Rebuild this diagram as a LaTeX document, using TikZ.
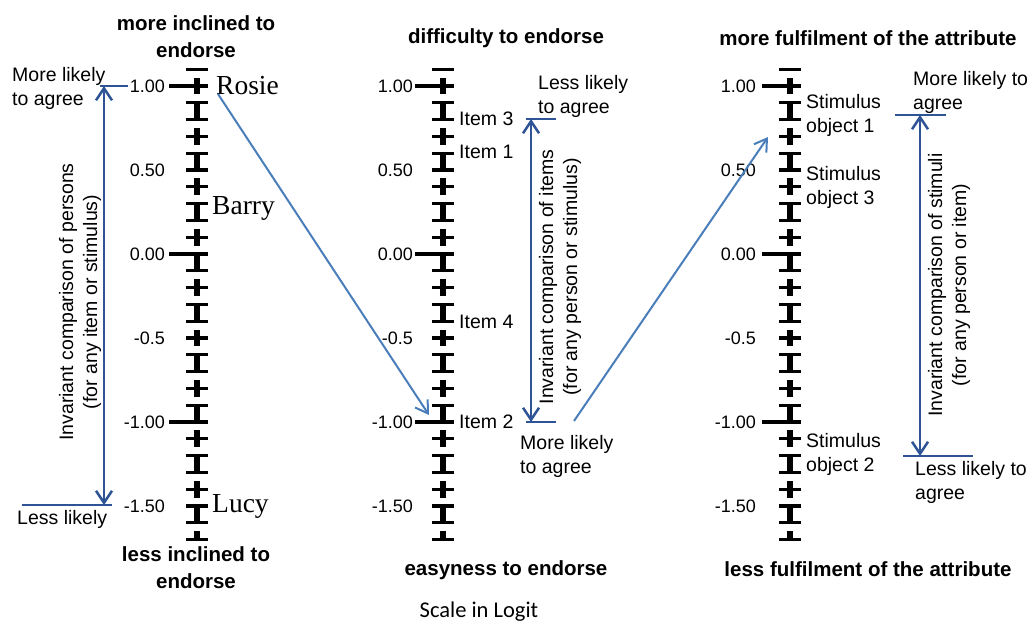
\documentclass[tikz,border=0pt]{standalone}
\usepackage{fontspec}
\setmainfont{Liberation Sans}
\newfontfamily\serifrm{Liberation Serif}
\newfontfamily\calib{Carlito}
\usetikzlibrary{arrows.meta}
\definecolor{darkblue}{RGB}{46,84,150}
\definecolor{lightblue}{RGB}{74,126,187}
\tikzset{
  lbl/.style={font=\fontsize{19.5}{24}\selectfont, inner sep=0pt, align=left},
  ttl/.style={font=\fontsize{20.5}{27}\selectfont\bfseries, align=center, inner sep=0pt},
  nm/.style={font=\fontsize{27.5}{30}\selectfont\serifrm, inner sep=0pt, anchor=west},
  tickl/.style={font=\fontsize{18}{24}\selectfont, inner sep=0pt, anchor=east},
  rot/.style={font=\fontsize{19.5}{24}\selectfont, inner sep=0pt, align=center, rotate=90},
  dbl/.style={draw=darkblue, line width=2.5pt},
  dblarrow/.style={dbl, {Straight Barb[length=12pt,width=16pt]}-{Straight Barb[length=12pt,width=16pt]}},
  conn/.style={draw=lightblue, line width=2pt, -{Straight Barb[length=12pt,width=15pt]}},
  minortick/.style={line width=3.2pt},
  majortick/.style={line width=4.5pt},
}
\newcommand\logitaxis[3]{%
  \begin{scope}
    \clip (#1-6,69.2) rectangle (#1+6,539.6);
    \foreach \k in {-11,...,8} \fill (#1-2.7,{254-25.2*\k}) rectangle (#1+2.7,{254-25.2*\k+16.8});
  \end{scope}
  \foreach \i in {-17,...,11} \draw[minortick] (#1-11,{254-16.8*\i}) -- (#1+11,{254-16.8*\i});
  \foreach \i in {-10,0,10} \draw[majortick] (#1-28,{254-16.8*\i}) -- (#1+11,{254-16.8*\i});
  \node[tickl] (#3p100) at (#2,86) {1.00};
  \node[tickl] (#3p050) at (#2,170) {0.50};
  \node[tickl] (#3p000) at (#2,254) {0.00};
  \node[tickl] (#3m050) at (#2,338) {-0.5};
  \node[tickl] (#3m100) at (#2,422) {-1.00};
  \node[tickl] (#3m150) at (#2,506) {-1.50};
}
\begin{document}
\begin{tikzpicture}[x=1pt,y=-1pt]
\useasboundingbox (0,0) rectangle (1036,624);

% ---------- axes
\logitaxis{197}{165}{A}
\logitaxis{443}{413}{B}
\logitaxis{790}{756}{C}

% ---------- titles
\node[ttl] (t1) at (196,37) {more inclined to\\endorse};
\node[ttl] (b1) at (196,568) {less inclined to\\endorse};
\node[ttl] (t2) at (506,38) {difficulty to endorse};
\node[ttl] (b2) at (506,570) {easyness to endorse};
\node[ttl] (t3) at (868,38) {more fulfilment of the attribute};
\node[ttl] (b3) at (868,569) {less fulfilment of the attribute};
\node[font=\fontsize{22.5}{26}\selectfont\calib, inner sep=0pt] (scale) at (479,612) {Scale in Logit};

% ---------- persons
\node[nm] (rosie) at (216,86) {Rosie};
\node[nm] (barry) at (212,208) {Barry};
\node[nm] (lucy) at (212,506) {Lucy};

% ---------- items
\node[lbl, anchor=west] (item3) at (459,119) {Item 3};
\node[lbl, anchor=west] (item1) at (459,152) {Item 1};
\node[lbl, anchor=west] (item4) at (459,322) {Item 4};
\node[lbl, anchor=west] (item2) at (459,422) {Item 2};

% ---------- stimuli
\node[lbl, anchor=west] (stim1) at (806,115) {Stimulus\\object 1};
\node[lbl, anchor=west] (stim3) at (806,187) {Stimulus\\object 3};
\node[lbl, anchor=west] (stim2) at (806,454) {Stimulus\\object 2};

% ---------- left comparison
\node[lbl, anchor=west] (lmore) at (12,88) {More likely\\to agree};
\node[lbl, anchor=west] (lless) at (17,519) {Less likely};
\coordinate (lt1) at (100,86); \coordinate (lt2) at (128,86);
\coordinate (lb1) at (22,505); \coordinate (lb2) at (112,505);
\coordinate (la1) at (104,86); \coordinate (la2) at (104,505);
\draw[dbl] (lt1) -- (lt2);
\draw[dbl] (lb1) -- (lb2);
\draw[dblarrow] (la1) -- (la2);
\node[rot] (rotL) at (80,302) {Invariant comparison of persons\\(for any item or stimulus)};

% ---------- middle comparison
\node[lbl, anchor=west] (mless) at (538,96) {Less likely\\to agree};
\node[lbl, anchor=west] (mmore) at (520,456) {More likely\\to agree};
\coordinate (mt1) at (526,119); \coordinate (mt2) at (556,119);
\coordinate (mb1) at (526,422); \coordinate (mb2) at (556,422);
\coordinate (ma1) at (531,119); \coordinate (ma2) at (531,422);
\draw[dbl] (mt1) -- (mt2);
\draw[dbl] (mb1) -- (mb2);
\draw[dblarrow] (ma1) -- (ma2);
\node[rot] (rotM) at (560,277) {Invariant comparison of items\\(for any person or stimulus)};

% ---------- right comparison
\node[lbl, anchor=west] (rmore) at (913,92) {More likely to\\agree};
\node[lbl, anchor=west] (rless) at (915,482) {Less likely to\\agree};
\coordinate (rt1) at (895,115); \coordinate (rt2) at (946,115);
\coordinate (rb1) at (903,456); \coordinate (rb2) at (973,456);
\coordinate (ra1) at (920,115); \coordinate (ra2) at (920,456);
\draw[dbl] (rt1) -- (rt2);
\draw[dbl] (rb1) -- (rb2);
\draw[dblarrow] (ra1) -- (ra2);
\node[rot] (rotR) at (949,285) {Invariant comparison of stimuli\\(for any person or item)};

% ---------- light blue connectors
\coordinate (c1s) at (218,94);
\coordinate (c1e) at (429,415);
\coordinate (c2s) at (574,421);
\coordinate (c2e) at (768,137);
\draw[conn] (c1s) -- (c1e);
\draw[conn] (c2s) -- (c2e);
\end{tikzpicture}
\end{document}
